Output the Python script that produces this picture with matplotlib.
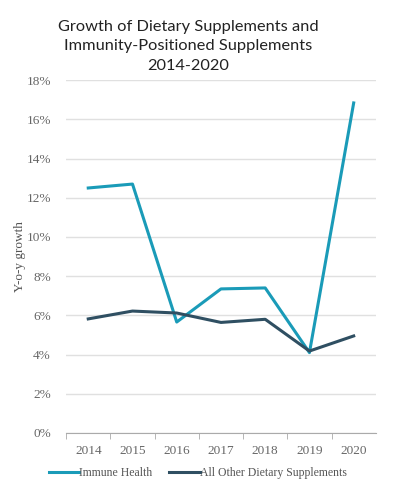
import numpy as np
import matplotlib.pyplot as plt
from matplotlib.ticker import FuncFormatter, FixedLocator

years = ['2014', '2015', '2016', '2017', '2018', '2019', '2020']
immune = [12.5, 12.7, 5.66, 7.35, 7.4, 4.1, 16.84]
other = [5.82, 6.22, 6.12, 5.64, 5.8, 4.18, 4.95]

c_immune = '#1a9bb8'
c_other = '#2f4f62'
serif = ['Liberation Serif', 'DejaVu Serif']

fig = plt.figure(figsize=(3.96, 4.92), dpi=100)
ax = fig.add_axes([0.167, 0.12, 0.782, 0.717])

x = np.arange(len(years))
ax.plot(x, immune, color=c_immune, lw=2.2, label='Immune Health')
ax.plot(x, other, color=c_other, lw=2.2, label='All Other Dietary Supplements')

ax.set_xlim(-0.5, 6.5)
ax.set_ylim(0, 18)
ax.set_yticks(np.arange(0, 19, 2))
ax.yaxis.set_major_formatter(FuncFormatter(lambda v, p: '%d%%' % v))
ax.set_xticks(x)
ax.set_xticklabels(years)
ax.xaxis.set_minor_locator(FixedLocator(np.arange(-0.5, 6.0, 1)))
ax.tick_params(axis='x', which='major', length=0, pad=9)
ax.tick_params(axis='x', which='minor', length=4, color='#aaaaaa')
ax.tick_params(axis='y', length=0, pad=11)
for lab in ax.get_xticklabels() + ax.get_yticklabels():
    lab.set_family(serif)
    lab.set_fontsize(9.5)
    lab.set_color('#666666')

ax.grid(axis='y', color='#e0e0e0', lw=1)
ax.set_axisbelow(True)
for s in ['top', 'right', 'left']:
    ax.spines[s].set_visible(False)
ax.spines['bottom'].set_color('#aaaaaa')

ax.set_ylabel('Y-o-y growth', family=serif, fontsize=9.5, color='#555555')
ax.yaxis.set_label_coords(-0.13, 0.5)

fig.text(0.475, 0.906, 'Growth of Dietary Supplements and\nImmunity-Positioned Supplements\n2014-2020',
         ha='center', va='center', fontsize=11.8, family=['Lato', 'DejaVu Sans'],
         linespacing=1.5, color='#222222')

leg = ax.legend(loc='center', bbox_to_anchor=(0.425, -0.113), ncol=2, frameon=False,
                prop={'family': serif, 'size': 8.5}, handlelength=2.6, handletextpad=0.0,
                columnspacing=1.4, labelcolor='#555555', borderpad=0)

fig.savefig('out.png', dpi=100)
